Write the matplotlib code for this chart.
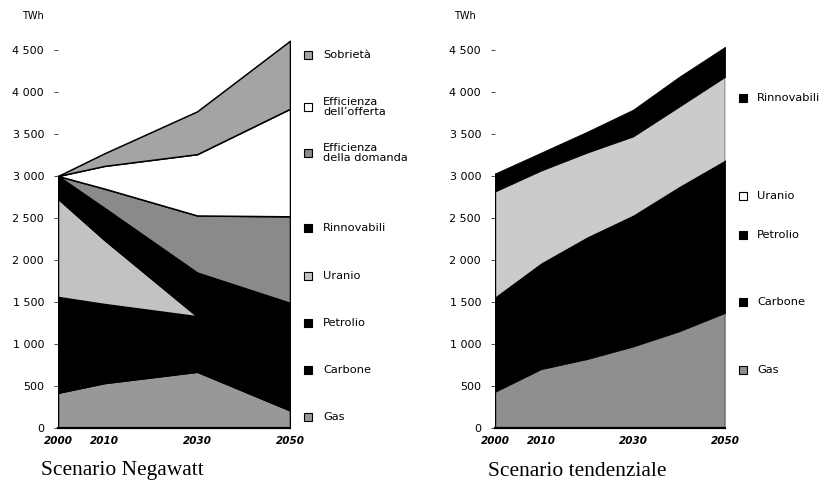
import matplotlib
matplotlib.use("Agg")
import matplotlib.pyplot as plt
from matplotlib.patches import Rectangle
from matplotlib.ticker import FuncFormatter

# ---------------- data ----------------
years_neg = [2000, 2010, 2030, 2050]
neg_gas = [420, 535, 670, 210]
neg_carbone = [600, 480, 300, 100]
neg_petrolio = [540, 461, 360, 230]
neg_uranio = [1170, 764, 0, 0]
neg_rinnovabili = [270, 380, 520, 950]
neg_eff_domanda = [0, 230, 680, 1030]
neg_eff_offerta = [0, 270, 730, 1280]
neg_sobrieta = [0, 150, 510, 810]

years_tend = [2000, 2010, 2020, 2030, 2040, 2050]
tend_gas = [430, 700, 820, 970, 1150, 1370]
tend_carbone = [560, 640, 730, 790, 870, 920]
tend_petrolio = [578, 631, 730, 780, 860, 905]
tend_uranio = [1247, 1093, 998, 930, 944, 985]
tend_rinnovabili = [215, 214, 249, 319, 356, 357]

x_ticks = [2000, 2010, 2030, 2050]
y_ticks = [0, 500, 1000, 1500, 2000, 2500, 3000, 3500, 4000, 4500]
unit = "TWh"

neg_labels = ["Gas", "Carbone", "Petrolio", "Uranio", "Rinnovabili",
              "Efficienza\ndella domanda", "Efficienza\ndell\u2019offerta", "Sobrietà"]
tend_labels = ["Gas", "Carbone", "Petrolio", "Uranio", "Rinnovabili"]
title_neg = "Scenario Negawatt"
title_tend = "Scenario tendenziale"

# ---------------- style ----------------
neg_colors = ["#989898", "#000000", "#000000", "#c2c2c2", "#000000",
              "#8a8a8a", "#ffffff", "#a4a4a4"]
tend_colors = ["#8f8f8f", "#000000", "#000000", "#cbcbcb", "#000000"]

W, H = 824, 483
fig = plt.figure(figsize=(W / 100, H / 100), dpi=100)

def fx(px):
    return px / W

def fy(py):
    return 1 - py / H

y0_px, ytop_val = 428, 4700
px_per = 378 / 4500
top_px = y0_px - ytop_val * px_per

def make_ax(left_px, right_px):
    return fig.add_axes([fx(left_px), fy(y0_px), (right_px - left_px) / W,
                         (y0_px - top_px) / H])

ax1 = make_ax(58, 290)
ax2 = make_ax(495, 725)

fmt = FuncFormatter(lambda v, p: f"{int(v):,}".replace(",", " "))

def style(ax):
    ax.set_xlim(2000, 2050)
    ax.set_ylim(0, ytop_val)
    ax.set_facecolor("none")
    for s in ["top", "right", "left"]:
        ax.spines[s].set_visible(False)
    ax.spines["bottom"].set_linewidth(1.6)
    ax.set_yticks(y_ticks)
    ax.yaxis.set_major_formatter(fmt)
    ax.set_xticks(x_ticks)
    ax.set_xticklabels([str(t) for t in x_ticks], fontweight="bold",
                       fontstyle="italic", fontsize=7.5)
    ax.tick_params(axis="y", length=3, width=0.5, pad=7, labelsize=8)
    ax.tick_params(axis="x", length=0, pad=6)

ax1.stackplot(years_neg, neg_gas, neg_carbone, neg_petrolio, neg_uranio,
              neg_rinnovabili, neg_eff_domanda, neg_eff_offerta, neg_sobrieta,
              colors=neg_colors, edgecolor="black", linewidth=1.1)
polys = ax2.stackplot(years_tend, tend_gas, tend_carbone, tend_petrolio,
                      tend_uranio, tend_rinnovabili, colors=tend_colors,
                      linewidth=0.6)
for p, c in zip(polys, tend_colors):
    p.set_edgecolor(c)
tend_totals = [sum(v) for v in zip(tend_gas, tend_carbone, tend_petrolio,
                                   tend_uranio, tend_rinnovabili)]
ax2.vlines([years_tend[0], years_tend[-1]], 0,
           [tend_totals[0], tend_totals[-1]], colors="black", linewidth=1.0)
style(ax1)
style(ax2)

# unit labels
fig.text(fx(33), fy(16), unit, ha="center", va="center", fontsize=7)
fig.text(fx(465), fy(16), unit, ha="center", va="center", fontsize=7)

# titles
fig.text(fx(122), fy(471), title_neg, ha="center", va="center",
         fontsize=15.5, family="Liberation Serif")
fig.text(fx(577), fy(471), title_tend, ha="center", va="center",
         fontsize=15.5, family="Liberation Serif")

# legends
def legend_item(xm, xt, ypx, label, color):
    s = 8
    r = Rectangle((fx(xm - s / 2), fy(ypx + s / 2)), s / W, s / H,
                  transform=fig.transFigure, facecolor=color,
                  edgecolor="black", linewidth=0.8)
    fig.add_artist(r)
    fig.text(fx(xt), fy(ypx), label, ha="left", va="center", fontsize=8.2,
             linespacing=0.95)

neg_leg_y = [417, 370, 323, 276, 228, 153, 107, 55]
for lab, col, yy in zip(neg_labels, neg_colors, neg_leg_y):
    legend_item(308, 323, yy, lab, col)

tend_leg_y = [370, 302, 235, 196, 98]
tend_leg_colors = ["#8f8f8f", "#000000", "#000000", "#ffffff", "#000000"]
for lab, col, yy in zip(tend_labels, tend_leg_colors, tend_leg_y):
    legend_item(743, 757, yy, lab, col)

fig.savefig("out.png", dpi=100)
